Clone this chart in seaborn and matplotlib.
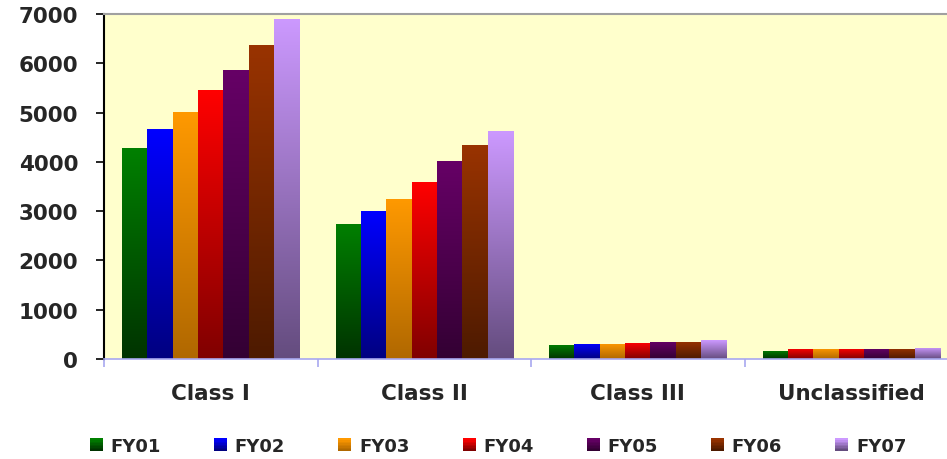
import numpy as np
import pandas as pd
import matplotlib
matplotlib.use("Agg")
import matplotlib.pyplot as plt
from matplotlib.colors import to_rgb
from matplotlib.patches import Rectangle
from matplotlib.legend_handler import HandlerBase
from matplotlib.ticker import FixedLocator
import seaborn as sns

# ---- data -------------------------------------------------------------
categories = ["Class I", "Class II", "Class III", "Unclassified"]
years = ["FY01", "FY02", "FY03", "FY04", "FY05", "FY06", "FY07"]
fy01 = [4280, 2740, 285, 170]
fy02 = [4660, 3000, 305, 210]
fy03 = [5010, 3245, 305, 210]
fy04 = [5455, 3590, 325, 210]
fy05 = [5860, 4015, 345, 210]
fy06 = [6370, 4340, 345, 210]
fy07 = [6900, 4625, 385, 230]
series = [fy01, fy02, fy03, fy04, fy05, fy06, fy07]
y_ticks = [0, 1000, 2000, 3000, 4000, 5000, 6000, 7000]

# ---- colours (top of bar -> bottom of bar) -----------------------------
top_colors = ["#008000", "#0000FF", "#FF9900", "#FF0000", "#660066", "#993300", "#CC99FF"]
bottom_colors = ["#003300", "#000080", "#B06800", "#800000", "#330033", "#4D1A00", "#644C7E"]
# one bar in the last group is filled red instead of blue
bar_overrides = {("Unclassified", "FY02"): ("#FF0000", "#800000")}

df = pd.DataFrame(
    [(c, y, v) for y, vals in zip(years, series) for c, v in zip(categories, vals)],
    columns=["Class", "Year", "Count"],
)

sns.set_theme(style="white")
plt.rcParams["font.family"] = ["DejaVu Sans"]

fig = plt.figure(figsize=(9.47, 4.6), dpi=100)
ax = fig.add_axes([104 / 947, 100 / 460, 854 / 947, 345 / 460])
ax.set_facecolor("#FFFFCC")

sns.barplot(
    data=df, x="Class", y="Count", hue="Year", order=categories, hue_order=years,
    palette=top_colors, saturation=1, width=0.83, legend=False, ax=ax,
)


def vertical_gradient(top, bottom, n=256):
    t = np.linspace(0, 1, n)[:, None]
    top = np.array(to_rgb(top))
    bottom = np.array(to_rgb(bottom))
    return (bottom + (top - bottom) * t)[:, None, :]


# replace the flat fills with a top-to-bottom shading
for yi, container in enumerate(ax.containers):
    for ci, bar in enumerate(container.patches):
        x, w, h = bar.get_x(), bar.get_width(), bar.get_height()
        top, bottom = bar_overrides.get(
            (categories[ci], years[yi]), (top_colors[yi], bottom_colors[yi])
        )
        bar.set_facecolor(top)
        bar.set_edgecolor("none")
        img = ax.imshow(
            vertical_gradient(top, bottom), extent=[x, x + w, 0, h], origin="lower",
            aspect="auto", interpolation="bilinear", zorder=bar.get_zorder() + 0.1,
        )
        img.set_clip_path(bar)

ax.set_xlim(-0.5, len(categories) - 0.5)
ax.set_ylim(0, 7000)
ax.set_xlabel("")
ax.set_ylabel("")

# ---- axes styling -----------------------------------------------------
ax.set_yticks(y_ticks)
ax.set_yticklabels([str(v) for v in y_ticks], fontsize=15.5, fontweight="bold")
ax.tick_params(axis="y", direction="out", length=5.5, width=1.2, color="black",
               pad=13, left=True)

ax.set_xticks(range(len(categories)))
ax.set_xticklabels(categories, fontsize=15.5, fontweight="bold")
ax.tick_params(axis="x", which="major", length=0, pad=17)
ax.xaxis.set_minor_locator(FixedLocator(np.arange(-0.5, len(categories), 1.0)))
ax.tick_params(axis="x", which="minor", direction="out", length=6, width=1.2,
               color="#A8A8F0", bottom=True)

ax.spines["left"].set_color("black")
ax.spines["left"].set_linewidth(1.5)
ax.spines["bottom"].set_color("#A8A8F0")
ax.spines["bottom"].set_linewidth(1.2)
for side in ("top", "right"):
    ax.spines[side].set_color("#A0A0A0")
    ax.spines[side].set_linewidth(1.5)
    ax.spines[side].set_visible(True)
ax.grid(False)


# ---- legend with shaded swatches -------------------------------------
class GradientSwatch:
    def __init__(self, top, bottom):
        self.top = top
        self.bottom = bottom


class GradientSwatchHandler(HandlerBase):
    def create_artists(self, legend, orig_handle, xdescent, ydescent, width, height,
                       fontsize, trans):
        n = 8
        cols = vertical_gradient(orig_handle.top, orig_handle.bottom, n)[:, 0, :]
        strips = []
        for i in range(n):
            r = Rectangle((-xdescent, -ydescent + height * i / n), width, height / n + 0.05,
                          facecolor=cols[i], edgecolor="none", transform=trans)
            strips.append(r)
        return strips


handles = [GradientSwatch(t, b) for t, b in zip(top_colors, bottom_colors)]
fig.legend(
    handles, years, handler_map={GradientSwatch: GradientSwatchHandler()},
    loc="center", bbox_to_anchor=(0.526, 1 - 447 / 460), ncol=7, frameon=False,
    prop={"size": 13, "weight": "bold"}, handlelength=0.72, handleheight=0.68,
    handletextpad=0.42, columnspacing=2.95,
)

fig.savefig("out.png", dpi=100, facecolor="white")
